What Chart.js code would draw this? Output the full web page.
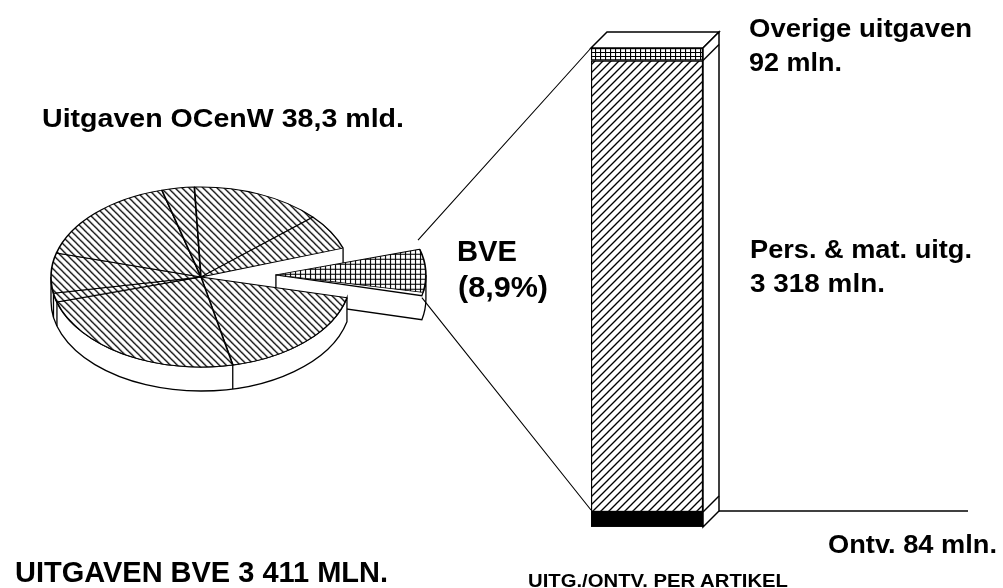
<!DOCTYPE html>
<html><head><meta charset="utf-8">
<style>
html,body{margin:0;padding:0;background:#fff;width:1003px;height:588px;overflow:hidden}
canvas{position:absolute;left:0;top:0}
.t{position:absolute;z-index:3;font-family:"Liberation Sans",Arial,sans-serif;font-weight:bold;color:#000;line-height:1;white-space:nowrap;transform-origin:0 0}
</style>
<script src="https://cdn.jsdelivr.net/npm/chart.js@4"></script>
</head><body>
<canvas id="pie" width="1003" height="588" style="z-index:1"></canvas>
<canvas id="bar" width="1003" height="588" style="z-index:2"></canvas>
<div class="t" data-w="362" style="left:42px;top:106px;font-size:25px">Uitgaven OCenW 38,3 mld.</div>
<div class="t" data-w="223" style="left:749px;top:16px;font-size:25px">Overige uitgaven</div>
<div class="t" data-w="93" style="left:749px;top:50px;font-size:25px">92 mln.</div>
<div class="t" data-w="60" style="left:457px;top:237px;font-size:29px">BVE</div>
<div class="t" data-w="90" style="left:458px;top:273px;font-size:29px">(8,9%)</div>
<div class="t" data-w="222" style="left:750px;top:237px;font-size:25px">Pers. &amp; mat. uitg.</div>
<div class="t" data-w="135" style="left:750px;top:271px;font-size:25px">3 318 mln.</div>
<div class="t" data-w="169" style="left:828px;top:532px;font-size:25px">Ontv. 84 mln.</div>
<div class="t" data-w="373" style="left:15px;top:558px;font-size:29px">UITGAVEN BVE 3 411 MLN.</div>
<div class="t" data-w="260" style="left:528px;top:571px;font-size:19px">UITG./ONTV. PER ARTIKEL</div>
<script>
// ---- data ----
const pieCategories = ['BVE','Artikel 2','Artikel 3','Artikel 4','Artikel 5','Artikel 6','Artikel 7','Artikel 8','Artikel 9'];
const pieShares     = [8.9, 17.9, 23.9, 1.6, 7.2, 16.5, 3.5, 14.1, 6.4];
const barCategories = ['BVE'];
const ontvangsten   = [-84];
const persMat       = [3318];
const overige       = [92];

// ---- styles ----
const SQUASH = 0.6, PIE_R = 150, PIE_DEPTH = 24, EXPLODE = 75, BAR_D = 16;

// the original lettering is wider than any installed face: stretch each line to its width
document.querySelectorAll('.t').forEach(el=>{
  const w=el.getBoundingClientRect().width;
  el.style.transform='scaleX('+(+el.dataset.w/w)+')';
});

function tile(w, h, draw){
  const c = document.createElement('canvas'); c.width = w; c.height = h;
  const x = c.getContext('2d'); x.fillStyle = '#fff'; x.fillRect(0,0,w,h);
  x.strokeStyle = '#000'; draw(x);
  return x.createPattern(c,'repeat');
}
const hatchBack = tile(7,7,x=>{x.lineWidth=1.25;x.beginPath();
  x.moveTo(-1,-1);x.lineTo(8,8);x.moveTo(-1,6);x.lineTo(1,8);x.moveTo(6,-1);x.lineTo(8,1);x.stroke();});
const hatchFwd = tile(8,8,x=>{x.lineWidth=1.35;x.beginPath();
  x.moveTo(-1,9);x.lineTo(9,-1);x.moveTo(-1,1);x.lineTo(1,-1);x.moveTo(7,9);x.lineTo(9,7);x.stroke();});
const gridPie = tile(5,5,x=>{x.lineWidth=1.2;x.beginPath();
  x.moveTo(0,.5);x.lineTo(5,.5);x.moveTo(.5,0);x.lineTo(.5,5);x.stroke();});
const gridBar = tile(5,4,x=>{x.lineWidth=1.2;x.beginPath();
  x.moveTo(0,.5);x.lineTo(5,.5);x.moveTo(.5,0);x.lineTo(.5,4);x.stroke();});
// cancel the vertical squash for the patterns used on the pie's top face
[hatchBack, gridPie].forEach(p=>p.setTransform(new DOMMatrix().scale(1,1/SQUASH)));

// ---- pie with explosion, squash and side wall ----
function explodedCenter(a){
  const m=(a.startAngle+a.endAngle)/2;
  return {x:a.x+EXPLODE*Math.cos(m), y:a.y+EXPLODE*Math.sin(m)*SQUASH};
}
const piePlugin = {
  id:'pie3d',
  afterDatasetsUpdate(chart){
    // Chart.js enlarges an offset arc; take that back so that every slice keeps the same radius
    const a = chart.getDatasetMeta(0).data[0];
    a.outerRadius = PIE_R - EXPLODE*(1-Math.sin(Math.min(Math.PI,a.circumference)));
  },
  beforeDatasetsDraw(chart){
    const ctx = chart.ctx, arcs = chart.getDatasetMeta(0).data, ry = PIE_R*SQUASH;
    const c = {x:arcs[1].x,y:arcs[1].y}, b = arcs[0], bc = explodedCenter(b);
    const P=(o,a,d)=>[o.x+PIE_R*Math.cos(a), o.y+ry*Math.sin(a)+d];
    ctx.save();
    ctx.strokeStyle='#000'; ctx.fillStyle='#fff'; ctx.lineWidth=1.3;
    // wall edge of the slice above the gap
    let p=P(c,b.startAngle,0); ctx.beginPath(); ctx.moveTo(p[0],p[1]); ctx.lineTo(p[0],p[1]+PIE_DEPTH); ctx.stroke();
    // wall of the exploded slice
    ctx.beginPath(); ctx.moveTo(bc.x,bc.y); ctx.lineTo(bc.x,bc.y+PIE_DEPTH);
    ctx.lineTo(...P(bc,b.endAngle,PIE_DEPTH));
    ctx.ellipse(bc.x,bc.y+PIE_DEPTH,PIE_R,ry,0,b.endAngle,0,true);
    ctx.lineTo(...P(bc,0,0));
    ctx.ellipse(bc.x,bc.y,PIE_R,ry,0,0,b.endAngle,false);
    ctx.closePath(); ctx.fill(); ctx.stroke();
    // wall of the remaining pie
    const s=arcs[1].startAngle;
    ctx.beginPath(); ctx.ellipse(c.x,c.y,PIE_R,ry,0,s,Math.PI,false);
    ctx.ellipse(c.x,c.y+PIE_DEPTH,PIE_R,ry,0,Math.PI,s,true);
    ctx.closePath(); ctx.fill(); ctx.stroke();
    for(let i=2;i<arcs.length;i++){
      const a=arcs[i].startAngle;
      if(a>0&&a<Math.PI){p=P(c,a,0);ctx.beginPath();ctx.moveTo(p[0],p[1]);ctx.lineTo(p[0],p[1]+PIE_DEPTH);ctx.stroke();}
    }
    ctx.restore();
    // squash the pie drawn by Chart.js
    ctx.save(); ctx.translate(c.x,c.y); ctx.scale(1,SQUASH); ctx.translate(-c.x,-c.y);
  },
  afterDatasetsDraw(chart){ chart.ctx.restore(); }
};
const pieChart = new Chart(document.getElementById('pie'),{
  type:'pie',
  data:{labels:pieCategories,datasets:[{
    data:pieShares,
    backgroundColor:pieShares.map((v,i)=>i===0?gridPie:hatchBack),
    borderColor:'#000',borderWidth:1.6,
    offset:pieShares.map((v,i)=>i===0?EXPLODE*4:0),
    clip:false
  }]},
  options:{responsive:false,animation:false,events:[],radius:PIE_R,rotation:71.3,
    layout:{padding:{left:0,right:601,top:0,bottom:34}},
    plugins:{legend:{display:false},tooltip:{enabled:false},title:{display:false}}},
  plugins:[piePlugin]
});

// ---- stacked bar with 3D faces ----
const barPlugin = {
  id:'bar3d',
  beforeDatasetsDraw(chart){
    const ctx=chart.ctx;
    const low=chart.getDatasetMeta(0).data[0], mid=chart.getDatasetMeta(1).data[0], top=chart.getDatasetMeta(2).data[0];
    const L=top.x-top.width/2, R=top.x+top.width/2, D=BAR_D;
    const T=top.y, B=low.y+3.5;
    ctx.save(); ctx.strokeStyle='#000'; ctx.fillStyle='#fff'; ctx.lineWidth=1.5;
    ctx.beginPath(); ctx.moveTo(L,T); ctx.lineTo(L+D,T-D); ctx.lineTo(R+D,T-D); ctx.lineTo(R,T); ctx.closePath(); ctx.fill(); ctx.stroke();
    ctx.beginPath(); ctx.moveTo(R,T); ctx.lineTo(R+D,T-D); ctx.lineTo(R+D,B-D); ctx.lineTo(R,B); ctx.closePath(); ctx.fill(); ctx.stroke();
    [mid.y, low.base].forEach(y=>{ctx.beginPath();ctx.moveTo(R,y);ctx.lineTo(R+D,y-D);ctx.stroke();});
    // ground line
    ctx.beginPath(); ctx.moveTo(R+D,B-D); ctx.lineTo(968,B-D); ctx.stroke();
    ctx.restore();
  },
  afterDatasetsDraw(chart){
    // solid black block with its heavy lower edge
    const ctx=chart.ctx, low=chart.getDatasetMeta(0).data[0];
    ctx.save(); ctx.fillStyle='#000';
    ctx.fillRect(low.x-low.width/2,low.base,low.width,low.y+3.5-low.base); ctx.restore();
  },
  afterDraw(chart){
    // leader lines from the exploded slice to the bar
    const ctx=chart.ctx, b=pieChart.getDatasetMeta(0).data[0], bc=explodedCenter(b), ry=PIE_R*SQUASH;
    const low=chart.getDatasetMeta(0).data[0], top=chart.getDatasetMeta(2).data[0];
    const L=top.x-top.width/2;
    ctx.save(); ctx.strokeStyle='#000'; ctx.lineWidth=1.1;
    ctx.beginPath();
    ctx.moveTo(bc.x+PIE_R*Math.cos(b.startAngle), bc.y+ry*Math.sin(b.startAngle)-6); ctx.lineTo(L,top.y);
    ctx.moveTo(bc.x+PIE_R*Math.cos(b.endAngle), bc.y+ry*Math.sin(b.endAngle)+2); ctx.lineTo(L,low.base-2);
    ctx.stroke(); ctx.restore();
  }
};
const commonBar={borderColor:'#000',borderWidth:1.5,borderSkipped:false,barPercentage:1,categoryPercentage:1};
new Chart(document.getElementById('bar'),{
  type:'bar',
  data:{labels:barCategories,datasets:[
    {label:'Ontv.',data:ontvangsten,backgroundColor:'#000',...commonBar,borderWidth:3},
    {label:'Pers. & mat. uitg.',data:persMat,backgroundColor:hatchFwd,...commonBar},
    {label:'Overige uitgaven',data:overige,backgroundColor:gridBar,...commonBar}
  ]},
  options:{responsive:false,animation:false,events:[],
    layout:{padding:{left:591,right:300,top:48,bottom:61}},
    scales:{x:{display:false,stacked:true},y:{display:false,stacked:true,min:-110,max:3410}},
    plugins:{legend:{display:false},tooltip:{enabled:false},title:{display:false}}},
  plugins:[barPlugin]
});
</script>
</body></html>
